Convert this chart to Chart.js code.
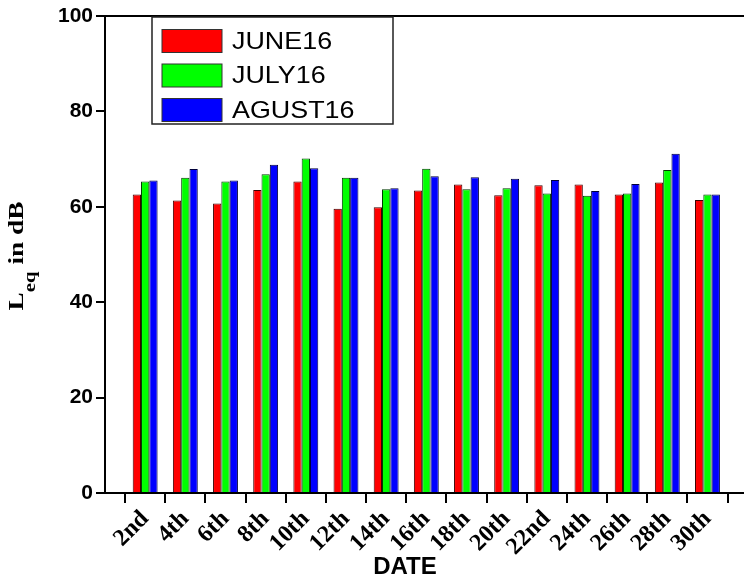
<!DOCTYPE html>
<html>
<head>
    <title>Leq by date</title>
    <script src="https://cdn.jsdelivr.net/npm/chart.js"></script>
    <style>
        body { margin: 0; overflow: hidden; background: #fff; }
        #wrap { width: 744px; height: 577px; overflow: hidden; }
    </style>
</head>
<body>
    <div id="wrap">
        <canvas id="myChart" width="770" height="577"></canvas>
    </div>

    <script>
        const dates = ['2nd', '4th', '6th', '8th', '10th', '12th', '14th', '16th', '18th', '20th', '22nd', '24th', '26th', '28th', '30th'];
        const june16 = [62.6, 61.3, 60.7, 63.5, 65.3, 59.6, 59.9, 63.4, 64.7, 62.4, 64.5, 64.7, 62.6, 65.1, 61.4];
        const july16 = [65.3, 66.1, 65.3, 66.8, 70.1, 66.1, 63.7, 68.0, 63.7, 63.9, 62.8, 62.3, 62.8, 67.7, 62.6];
        const agust16 = [65.5, 67.9, 65.5, 68.8, 68.1, 66.1, 63.9, 66.4, 66.2, 65.9, 65.6, 63.3, 64.8, 71.1, 62.6];
        const yTicks = [0, 20, 40, 60, 80, 100];

        // one empty slot at each end so the first/last dates sit a full step in from the axes
        const labels = ['', ...dates, ''];
        const pad = arr => [null, ...arr, null];

        const decor = {
            id: 'decor',
            afterDraw(chart) {
                const { ctx, chartArea } = chart;
                ctx.save();

                // top frame line
                ctx.strokeStyle = '#000';
                ctx.lineWidth = 2;
                ctx.beginPath();
                ctx.moveTo(chartArea.left, chartArea.top);
                ctx.lineTo(chartArea.right, chartArea.top);
                ctx.stroke();

                // legend box
                const lx = chartArea.left + 47, ly = chartArea.top + 1;
                ctx.lineWidth = 1.5;
                ctx.strokeStyle = '#222';
                ctx.strokeRect(lx, ly, 241, 107);
                ctx.font = '24px "Liberation Sans", Arial, sans-serif';
                ctx.textBaseline = 'middle';
                chart.data.datasets.forEach((ds, i) => {
                    const cy = ly + 24 + i * 34.5;
                    ctx.fillStyle = ds.backgroundColor;
                    ctx.fillRect(lx + 10, cy - 11.5, 60, 23);
                    ctx.lineWidth = 1;
                    ctx.strokeStyle = '#333';
                    ctx.strokeRect(lx + 10, cy - 11.5, 60, 23);
                    ctx.fillStyle = '#000';
                    ctx.save();
                    ctx.translate(lx + 80, cy + 1);
                    ctx.scale(1.12, 1);
                    ctx.fillText(ds.label, 0, 0);
                    ctx.restore();
                });

                // x title
                ctx.font = 'bold 24px "Liberation Sans", Arial, sans-serif';
                ctx.textAlign = 'center';
                ctx.textBaseline = 'alphabetic';
                ctx.fillText('DATE', 405, 574);

                // y title with subscript
                ctx.translate(23, 256);
                ctx.rotate(-Math.PI / 2);
                ctx.scale(1.3, 1);
                const big = 'bold 21px "Liberation Serif", "Times New Roman", serif';
                const small = 'bold 16px "Liberation Serif", "Times New Roman", serif';
                ctx.font = big;
                const wL = ctx.measureText('L').width;
                const wRest = ctx.measureText(' in dB').width;
                ctx.font = small;
                const wSub = ctx.measureText('eq').width;
                let x = -(wL + wSub + wRest) / 2;
                ctx.textAlign = 'left';
                ctx.font = big;
                ctx.fillText('L', x, 0);
                x += wL;
                ctx.font = small;
                ctx.fillText('eq', x, 12);
                x += wSub;
                ctx.font = big;
                ctx.fillText(' in dB', x, 0);

                ctx.restore();
            }
        };

        const ctx = document.getElementById('myChart').getContext('2d');
        const chart = new Chart(ctx, {
            type: 'bar',
            data: {
                labels: labels,
                datasets: [{
                    label: 'JUNE16',
                    data: pad(june16),
                    backgroundColor: '#ff0000',
                    borderColor: '#3a0000',
                    borderWidth: 1
                }, {
                    label: 'JULY16',
                    data: pad(july16),
                    backgroundColor: '#00ff00',
                    borderColor: '#003a00',
                    borderWidth: 1
                }, {
                    label: 'AGUST16',
                    data: pad(agust16),
                    backgroundColor: '#0000ff',
                    borderColor: '#00003a',
                    borderWidth: 1
                }]
            },
            options: {
                responsive: false,
                animation: false,
                layout: { padding: { left: 0, top: 16, right: 17, bottom: 0 } },
                categoryPercentage: 0.62,
                barPercentage: 1,
                plugins: {
                    legend: { display: false },
                    tooltip: { enabled: false }
                },
                scales: {
                    x: {
                        offset: false,
                        grid: { drawOnChartArea: false, drawTicks: true, tickLength: 10, color: '#000', lineWidth: 2 },
                        border: { color: '#000', width: 2 },
                        ticks: {
                            autoSkip: false,
                            maxRotation: 45,
                            minRotation: 45,
                            padding: 2,
                            color: '#000',
                            font: { family: '"Liberation Serif", "Times New Roman", serif', weight: 'bold', size: 24 }
                        },
                        afterFit: s => { s.height = 84; }
                    },
                    y: {
                        min: 0,
                        max: 100,
                        afterBuildTicks: s => { s.ticks = yTicks.map(v => ({ value: v })); },
                        grid: { drawOnChartArea: false, drawTicks: true, tickLength: 9, color: '#000', lineWidth: 2 },
                        border: { color: '#000', width: 2 },
                        ticks: {
                            padding: 3,
                            color: '#000',
                            font: { family: '"Liberation Sans", Arial, sans-serif', weight: 'bold', size: 21 }
                        },
                        afterFit: s => { s.width = 105; }
                    }
                }
            },
            plugins: [decor]
        });
    </script>
</body>
</html>
